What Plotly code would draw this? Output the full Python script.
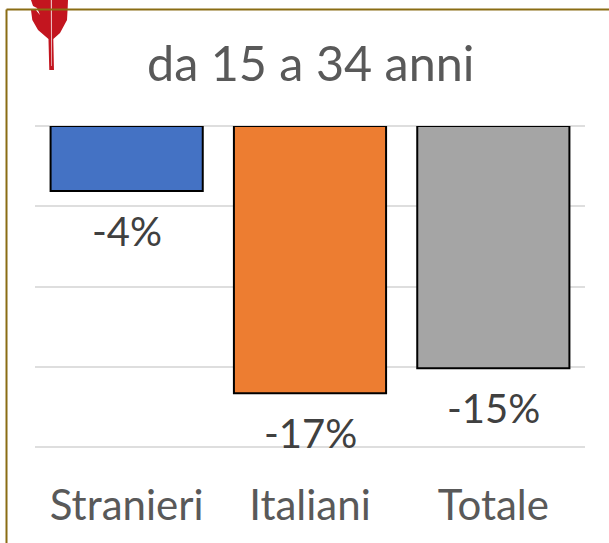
import plotly.graph_objects as go

categories = ["Stranieri", "Italiani", "Totale"]
values = [-4.05, -16.65, -15.1]
labels = ["-4%", "-17%", "-15%"]
colors = ["#4472C4", "#ED7D31", "#A5A5A5"]
title_text = "da 15 a 34 anni"

W, H = 609, 543
L, R, T, B = 35, 24, 126, 93
PW, PH = W - L - R, H - T - B

def px(x):
    return (x - L) / PW

def py(y):
    return 1 - (y - T) / PH

def path(points):
    return "M " + " L ".join(f"{px(x):.4f},{py(y):.4f}" for x, y in points) + " Z"

feather = [(31, 0), (68, 0), (67.7, 7), (67, 20), (60, 33), (53.3, 39), (54, 70), (49.3, 70),
           (48.5, 39), (38, 30), (32.3, 20), (31, 10), (35, 9), (40, 15), (37, 8), (33, 6)]
quill = [(50.8, 0), (52, 0), (52, 40), (51.8, 66), (51, 66), (51, 40)]

fig = go.Figure(go.Bar(
    x=categories, y=values,
    marker=dict(color=colors, line=dict(color="#000000", width=2)),
    width=0.83, hoverinfo="skip",
))

annotations = [
    dict(x=c, y=v, text=t, xref="x", yref="y", showarrow=False, yanchor="top",
         yshift=-14, font=dict(family="Lato", size=40, color="#404040"))
    for c, v, t in zip(categories, values, labels)
]
annotations.append(dict(
    x=px(310), y=py(62), xref="paper", yref="paper", text=title_text, showarrow=False,
    xanchor="center", yanchor="middle", font=dict(family="Lato", size=48.5, color="#595959")))

shapes = [
    dict(type="path", path=path(feather), xref="paper", yref="paper",
         fillcolor="#C3151F", line=dict(width=0), layer="above"),
    dict(type="path", path=path(quill), xref="paper", yref="paper",
         fillcolor="#EBB9BD", line=dict(width=0), layer="above"),
    dict(type="line", xref="paper", yref="paper", x0=px(6.5), x1=px(609), y0=py(9.5), y1=py(9.5),
         line=dict(color="#8A6D14", width=2)),
    dict(type="line", xref="paper", yref="paper", x0=px(6.5), x1=px(6.5), y0=py(9.5), y1=py(543),
         line=dict(color="#8A6D14", width=2)),
]

fig.update_layout(
    width=W, height=H, margin=dict(l=L, r=R, t=T, b=B, autoexpand=False),
    paper_bgcolor="white", plot_bgcolor="white", showlegend=False,
    annotations=annotations, shapes=shapes,
    xaxis=dict(showgrid=False, zeroline=False, showline=False, ticks="", side="bottom",
               tickfont=dict(family="Lato", size=42, color="#595959"), ticklabelstandoff=27),
    yaxis=dict(range=[-20.187, 0], tickvals=[-20, -15, -10, -5, 0], showticklabels=False, showgrid=True,
               gridcolor="#DEDEDE", gridwidth=2, zeroline=True, zerolinecolor="#DEDEDE", zerolinewidth=2,
               showline=False, ticks=""),
)
fig.write_html("out.html", config={"displayModeBar": False},
               post_script="document.body.style.margin='0';document.documentElement.style.overflow='hidden';")
